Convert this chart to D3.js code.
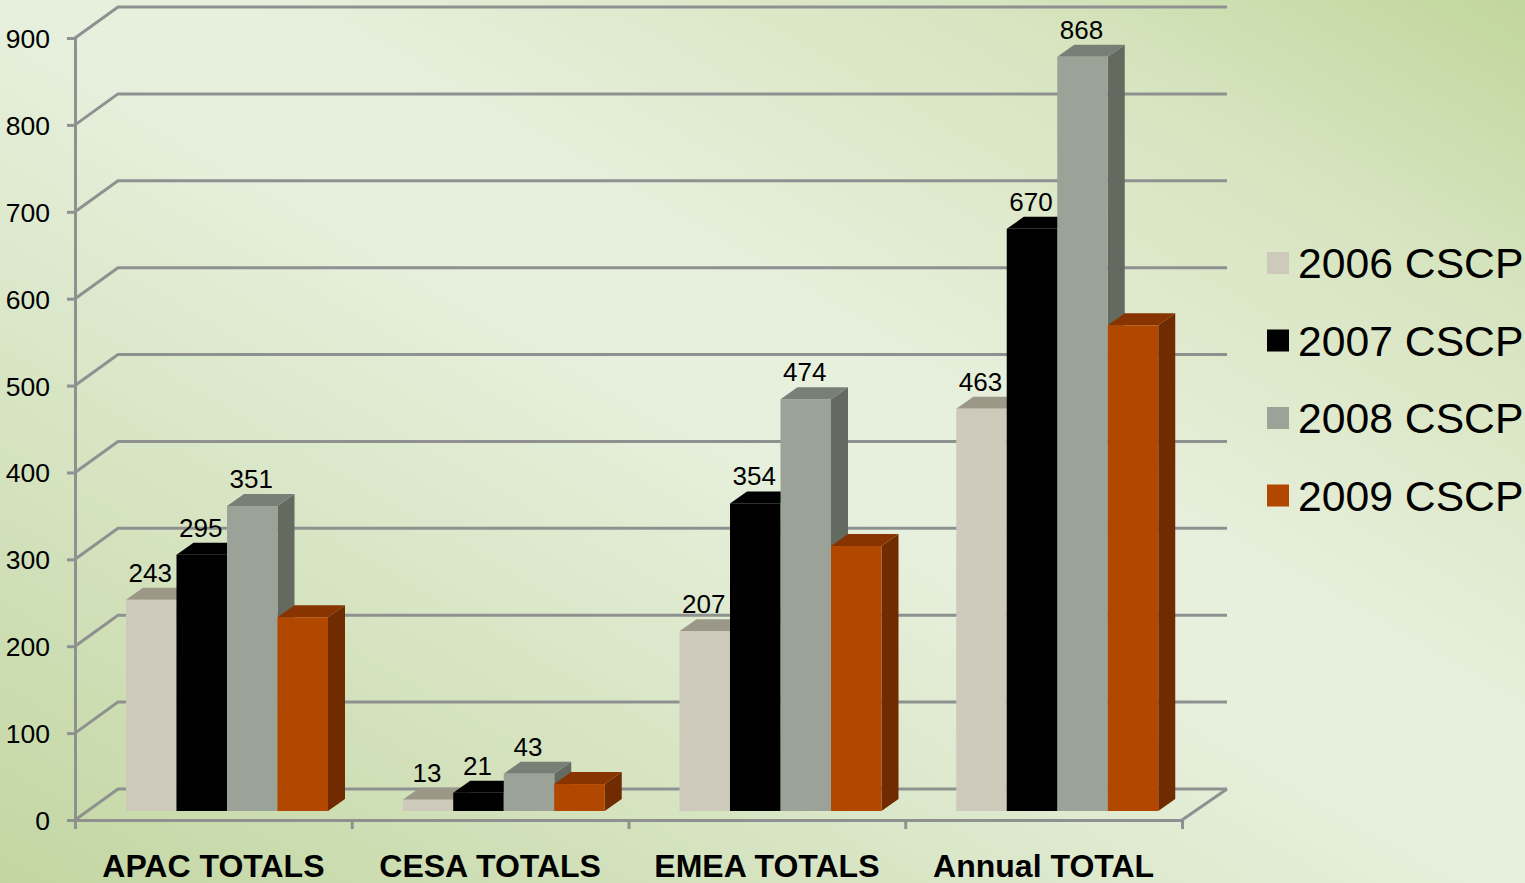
<!DOCTYPE html>
<html>
<head>
<meta charset="utf-8">
<script src="https://cdn.jsdelivr.net/npm/d3@7"></script>
<style>
	html, body { margin: 0; padding: 0; overflow: hidden; }
	svg { display: block; }
	text { font-family: "Liberation Sans", Arial, sans-serif; fill: #000; }
</style>
</head>
<body>
<script>

var categories = ["APAC TOTALS", "CESA TOTALS", "EMEA TOTALS", "Annual TOTAL"];
var seriesNames = ["2006 CSCP", "2007 CSCP", "2008 CSCP", "2009 CSCP"];
var values2006 = [243, 13, 207, 463];
var values2007 = [295, 21, 354, 670];
var values2008 = [351, 43, 474, 868];
var values2009 = [223, 31, 305, 559];
var labelled = [true, true, true, false];
var yTicks = [0, 100, 200, 300, 400, 500, 600, 700, 800, 900];

var allSeries = [values2006, values2007, values2008, values2009];
var frontColors = ["#cdcabb", "#000000", "#9ba398", "#b24700"];
var topColors = ["#9b9888", "#000000", "#787f76", "#873400"];
var sideColors = ["#8f8d80", "#000000", "#646a60", "#702c00"];

var width = 1525, height = 883;
var gridColor = "#8f9191";

var canvas = d3.select("body").append("svg")
				.attr("width", width)
				.attr("height", height);

//****************************************************************************************************************************//
// Background

var defs = canvas.append("defs");
var bgGradient = defs.append("linearGradient")
				.attr("id", "bg")
				.attr("gradientUnits", "userSpaceOnUse")
				.attr("x1", 1144).attr("y1", -219)
				.attr("x2", 380).attr("y2", 1101);
[[0, "#c1d69c"], [0.17, "#d6e4bf"], [0.29, "#dfe9cc"], [0.42, "#e7f0dd"], [0.5, "#e7f0dd"], [1, "#c3d6a2"]].forEach(function(s){
	bgGradient.append("stop").attr("offset", s[0]).attr("stop-color", s[1]);
});

canvas.append("rect")
				.attr("width", width)
				.attr("height", height)
				.attr("fill", "url(#bg)");

//****************************************************************************************************************************//
// Scales

var x = d3.scaleBand().domain(d3.range(categories.length)).range([75, 1182]);
var barX = d3.scaleBand().domain(d3.range(seriesNames.length)).range([51, 253]);
var y = d3.scaleLinear().domain([0, 900]).range([820, 38]);

var wall = { dx : 43, dy : -31 };
var wallRight = 1227;
var floorShift = -9;
var barDepth = { dx : 17, dy : -12 };

//****************************************************************************************************************************//
// Walls

var walls = canvas.append("g")
				.attr("stroke", gridColor)
				.attr("fill", "none")
				.attr("stroke-width", 3);

walls.selectAll(".back")
	.data(yTicks)
	.enter().append("path")
				.attr("class", "back")
				.attr("d", function(d){
					return "M" + 75 + "," + y(d) + "L" + (75 + wall.dx) + "," + (y(d) + wall.dy) + "H" + wallRight;
				});

walls.append("path")
				.attr("d", "M1182," + y(0) + "L" + wallRight + "," + (y(0) + wall.dy));

//****************************************************************************************************************************//
// Axes

var yAxis = canvas.append("g")
				.attr("transform", "translate(75,0)")
				.call(d3.axisLeft(y).tickValues(yTicks).tickSize(8).tickPadding(17));

var xAxis = canvas.append("g")
				.attr("transform", "translate(0," + y(0) + ")")
				.call(d3.axisBottom(d3.scaleLinear().domain([0, categories.length]).range([75, 1182]))
					.ticks(categories.length)
					.tickSize(9)
					.tickFormat(""));

canvas.selectAll(".domain, .tick line")
				.attr("stroke", gridColor)
				.attr("stroke-width", 3);

yAxis.selectAll("text")
				.style("font-family", "'Liberation Sans', Arial, sans-serif")
				.style("font-size", "26.5px")
				.attr("fill", "#000")
				.attr("dy", "0.36em");

canvas.selectAll(".categoryLabel")
	.data(categories)
	.enter().append("text")
				.attr("class", "categoryLabel")
				.attr("x", function(d, i){ return x(i) + x.bandwidth() / 2; })
				.attr("y", 877)
				.attr("text-anchor", "middle")
				.style("font-size", "32px")
				.style("font-weight", "bold")
				.text(function(d){ return d; });

//****************************************************************************************************************************//
// Bars

var bars = canvas.append("g");

allSeries.forEach(function(series, s){
	var group = bars.append("g").attr("class", "series" + s);

	series.forEach(function(v, c){
		var left = x(c) + barX(s);
		var right = left + barX.bandwidth();
		var top = y(v) + floorShift;
		var base = y(0) + floorShift;

		group.append("path")
				.attr("fill", sideColors[s])
				.attr("d", "M" + right + "," + top + "l" + barDepth.dx + "," + barDepth.dy + "V" + (base + barDepth.dy) + "L" + right + "," + base + "Z");

		group.append("path")
				.attr("fill", topColors[s])
				.attr("d", "M" + left + "," + top + "l" + barDepth.dx + "," + barDepth.dy + "H" + (right + barDepth.dx) + "L" + right + "," + top + "Z");

		group.append("rect")
				.attr("x", left)
				.attr("y", top)
				.attr("width", barX.bandwidth())
				.attr("height", base - top)
				.attr("fill", frontColors[s]);
	});
});

//****************************************************************************************************************************//
// Data Labels

allSeries.forEach(function(series, s){
	if(!labelled[s]) return;
	canvas.selectAll(".label" + s)
		.data(series)
		.enter().append("text")
				.attr("class", "label" + s)
				.attr("x", function(d, c){ return x(c) + barX(s) + barX.bandwidth() / 2 - 1; })
				.attr("y", function(d){ return y(d) + floorShift - 18; })
				.attr("text-anchor", "middle")
				.style("font-size", "26px")
				.text(function(d){ return d; });
});

//****************************************************************************************************************************//
// Legend

var legendRow = d3.scaleBand().domain(d3.range(seriesNames.length)).range([226, 536]);

var legend = canvas.selectAll(".legendItem")
	.data(seriesNames)
	.enter().append("g")
				.attr("class", "legendItem")
				.attr("transform", function(d, i){ return "translate(1267," + legendRow(i) + ")"; });

legend.append("rect")
				.attr("x", 0)
				.attr("y", 26)
				.attr("width", 22)
				.attr("height", 22)
				.attr("fill", function(d, i){ return frontColors[i]; });

legend.append("text")
				.attr("x", 31)
				.attr("y", 52)
				.style("font-size", "42.7px")
				.text(function(d){ return d; });

</script>
</body>
</html>
